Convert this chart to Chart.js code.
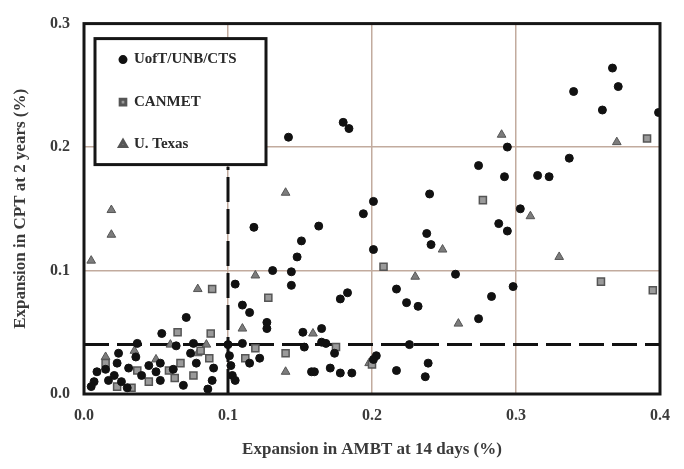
<!DOCTYPE html>
<html>
<head>
<meta charset="utf-8">
<script src="https://cdn.jsdelivr.net/npm/chart.js@4.4.0/dist/chart.umd.min.js"></script>
<style>
    html, body { margin: 0; background: #fff; }
</style>
</head>
<body>
<canvas id="expansion-chart" width="684" height="469"></canvas>
<script>
// values, [AMBT 14 d, CPT 2 yr] in %
const uoftPoints = [
    [0.142, 0.208], [0.180, 0.220], [0.184, 0.215], [0.340, 0.245], [0.367, 0.264], [0.371, 0.249],
    [0.360, 0.230], [0.399, 0.228], [0.294, 0.200], [0.337, 0.191], [0.315, 0.177], [0.323, 0.176],
    [0.292, 0.176], [0.274, 0.185], [0.240, 0.162], [0.303, 0.150], [0.288, 0.138], [0.294, 0.132],
    [0.238, 0.130], [0.241, 0.121], [0.258, 0.097], [0.217, 0.085], [0.224, 0.074], [0.232, 0.071],
    [0.298, 0.087], [0.283, 0.079], [0.274, 0.061], [0.226, 0.040], [0.239, 0.025], [0.217, 0.019],
    [0.237, 0.014], [0.201, 0.156], [0.194, 0.146], [0.163, 0.136], [0.151, 0.124], [0.148, 0.111],
    [0.131, 0.100], [0.144, 0.099], [0.144, 0.088], [0.201, 0.117], [0.183, 0.082], [0.178, 0.077],
    [0.118, 0.135], [0.105, 0.089], [0.110, 0.072], [0.115, 0.066], [0.127, 0.058], [0.127, 0.053],
    [0.152, 0.050], [0.165, 0.053], [0.165, 0.042], [0.168, 0.041], [0.153, 0.038], [0.110, 0.041],
    [0.174, 0.033], [0.122, 0.029], [0.115, 0.025], [0.203, 0.031], [0.201, 0.028], [0.158, 0.018],
    [0.160, 0.018], [0.171, 0.021], [0.178, 0.017], [0.186, 0.017], [0.100, 0.040], [0.101, 0.031],
    [0.102, 0.023], [0.103, 0.015], [0.105, 0.011], [0.071, 0.062], [0.054, 0.049], [0.037, 0.041],
    [0.064, 0.039], [0.076, 0.041], [0.024, 0.033], [0.036, 0.030], [0.045, 0.023], [0.053, 0.025],
    [0.009, 0.018], [0.021, 0.015], [0.007, 0.010], [0.017, 0.011], [0.026, 0.010], [0.050, 0.018],
    [0.053, 0.011], [0.069, 0.007], [0.089, 0.011], [0.090, 0.021], [0.078, 0.025], [0.074, 0.033],
    [0.005, 0.006], [0.031, 0.021], [0.023, 0.025], [0.015, 0.020], [0.040, 0.015], [0.062, 0.020],
    [0.086, 0.004], [0.030, 0.005]
]
const canmetPoints = [
    [0.391, 0.207], [0.359, 0.091], [0.395, 0.084], [0.277, 0.157], [0.208, 0.103], [0.128, 0.078],
    [0.119, 0.037], [0.140, 0.033], [0.112, 0.029], [0.175, 0.038], [0.200, 0.024], [0.065, 0.050],
    [0.088, 0.049], [0.081, 0.035], [0.067, 0.025], [0.059, 0.019], [0.087, 0.029], [0.037, 0.019],
    [0.023, 0.006], [0.033, 0.005], [0.063, 0.013], [0.076, 0.015], [0.089, 0.085], [0.045, 0.010],
    [0.015, 0.025]
]
const texasPoints = [
    [0.005, 0.108], [0.019, 0.149], [0.019, 0.129], [0.079, 0.085], [0.119, 0.096], [0.110, 0.053],
    [0.140, 0.163], [0.159, 0.049], [0.140, 0.018], [0.249, 0.117], [0.230, 0.095], [0.260, 0.057],
    [0.310, 0.144], [0.330, 0.111], [0.290, 0.210], [0.370, 0.204], [0.079, 0.033], [0.015, 0.030],
    [0.035, 0.035], [0.060, 0.040], [0.085, 0.040], [0.050, 0.028], [0.198, 0.025]
]
// limit lines
const cptLimit = 0.04
const ambtLimit = 0.1
const ambtLineTop = 0.184

const xTicks = [0, 0.1, 0.2, 0.3, 0.4]
const yTicks = [0, 0.1, 0.2, 0.3]

const serif = '"Liberation Serif", "DejaVu Serif", serif'

function toXY(pts) {
    return pts.map(p => ({x: p[0], y: p[1]}))
}

const frameAndKey = {
    id: 'frameAndKey',
    afterDraw(chart) {
        const ctx = chart.ctx
        const a = chart.chartArea
        ctx.save()
        ctx.lineWidth = 3
        ctx.strokeStyle = '#161616'
        ctx.strokeRect(a.left, a.top, a.right - a.left, a.bottom - a.top)

        // key box
        const bx = a.left + 11, by = a.top + 15, bw = 171, bh = 126
        ctx.fillStyle = '#fff'
        ctx.fillRect(bx, by, bw, bh)
        ctx.strokeRect(bx, by, bw, bh)
        const keyed = chart.data.datasets.filter(d => d.inKey)
        keyed.forEach((d, i) => {
            const y = by + 21 + i * 42.5
            ctx.fillStyle = d.backgroundColor
            ctx.strokeStyle = d.borderColor
            Chart.helpers.drawPoint(ctx, {pointStyle: d.pointStyle, radius: d.pointRadius - 1, borderWidth: d.borderWidth}, bx + 28, y)
            ctx.fillStyle = '#2a2a2a'
            ctx.font = 'bold 15px ' + serif
            ctx.textBaseline = 'middle'
            ctx.fillText(d.label, bx + 39, y)
        })
        ctx.restore()
    }
}

const canvas = document.getElementById('expansion-chart')
const chart = new Chart(canvas, {
    type: 'scatter',
    data: {
        datasets: [
            {
                label: 'UofT/UNB/CTS',
                data: toXY(uoftPoints),
                inKey: true,
                pointStyle: 'circle',
                pointRadius: 4,
                backgroundColor: '#111',
                borderColor: '#111',
                borderWidth: 1,
                order: 1
            },
            {
                label: 'CANMET',
                data: toXY(canmetPoints),
                inKey: true,
                pointStyle: 'rect',
                pointRadius: 5,
                backgroundColor: '#9a9a9a',
                borderColor: '#555',
                borderWidth: 1.5,
                order: 2
            },
            {
                label: 'U. Texas',
                data: toXY(texasPoints),
                inKey: true,
                pointStyle: 'triangle',
                pointRadius: 5,
                backgroundColor: '#7c7c7c',
                borderColor: '#555',
                borderWidth: 1,
                order: 3
            },
            {
                label: 'cpt limit',
                type: 'line',
                data: [{x: 0, y: cptLimit}, {x: 0.4, y: cptLimit}],
                borderColor: '#111',
                borderWidth: 3,
                borderDash: [25, 8],
                pointRadius: 0,
                order: 10
            },
            {
                label: 'ambt limit',
                type: 'line',
                data: [{x: ambtLimit, y: 0}, {x: ambtLimit, y: ambtLineTop}],
                borderColor: '#111',
                borderWidth: 3,
                borderDash: [25, 7],
                pointRadius: 0,
                order: 10
            }
        ]
    },
    options: {
        responsive: false,
        animation: false,
        layout: {
            padding: {top: 17, right: 24, left: 0, bottom: 0}
        },
        plugins: {
            legend: {display: false},
            tooltip: {enabled: false}
        },
        scales: {
            x: {
                type: 'linear',
                min: 0,
                max: 0.4,
                afterBuildTicks: s => { s.ticks = xTicks.map(v => ({value: v})) },
                afterFit: s => { s.height = 75 },
                ticks: {
                    callback: v => v.toFixed(1),
                    font: {family: serif, size: 16, weight: 'bold'},
                    color: '#3a3a3a',
                    padding: 12,
                    maxRotation: 0
                },
                grid: {
                    drawTicks: false,
                    lineWidth: 1.5,
                    color: c => (c.tick && c.tick.value > 0 && c.tick.value < 0.4) ? '#c2ab9e' : 'rgba(0,0,0,0)'
                },
                border: {display: false},
                title: {
                    display: true,
                    text: 'Expansion in AMBT at 14 days (%)',
                    font: {family: serif, size: 17, weight: 'bold'},
                    color: '#3a3a3a',
                    padding: {top: 0, bottom: 9}
                }
            },
            y: {
                min: 0,
                max: 0.3,
                afterBuildTicks: s => { s.ticks = yTicks.map(v => ({value: v})) },
                afterFit: s => { s.width = 84 },
                ticks: {
                    callback: v => v.toFixed(1),
                    font: {family: serif, size: 16, weight: 'bold'},
                    color: '#3a3a3a',
                    padding: 14
                },
                grid: {
                    drawTicks: false,
                    lineWidth: 1.5,
                    color: c => (c.tick && c.tick.value > 0 && c.tick.value < 0.3) ? '#c2ab9e' : 'rgba(0,0,0,0)'
                },
                border: {display: false},
                title: {
                    display: true,
                    text: 'Expansion in CPT at 2 years (%)',
                    font: {family: serif, size: 17, weight: 'bold'},
                    color: '#3a3a3a',
                    padding: {top: 10, bottom: 0}
                }
            }
        }
    },
    plugins: [frameAndKey]
})
</script>
</body>
</html>
